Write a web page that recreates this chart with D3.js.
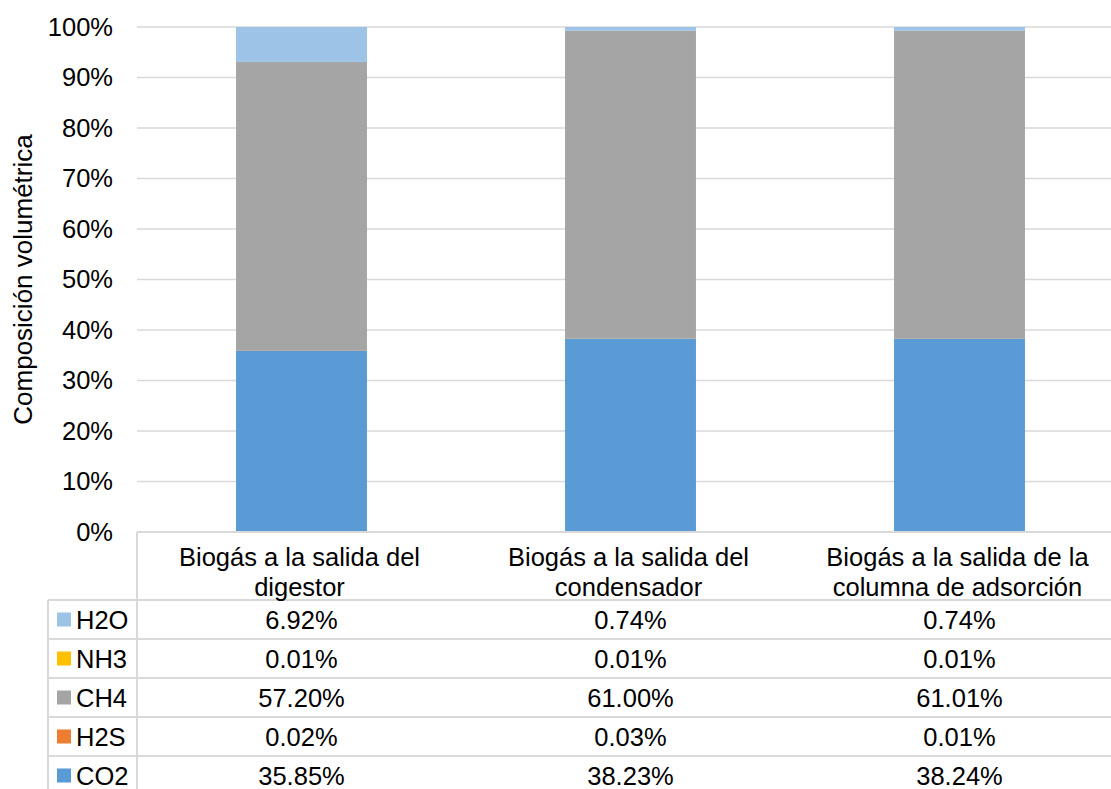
<!DOCTYPE html>
<html>
<head>
<meta charset="utf-8">
<script src="https://cdn.jsdelivr.net/npm/d3@7"></script>
<style>
  html, body { margin: 0; padding: 0; background: #fff; overflow: hidden; }
  svg { display: block; font-family: "Liberation Sans", Arial, sans-serif; }
</style>
</head>
<body>
<svg id="chart" width="1111" height="789"></svg>
<script>
// Sampling points along the biogas treatment line
const categories = [
  ["Biogás a la salida del", "digestor"],
  ["Biogás a la salida del", "condensador"],
  ["Biogás a la salida de la", "columna de adsorción"]
];

// Gas components, bottom of the stack first
const seriesNames = ["CO2", "H2S", "CH4", "NH3", "H2O"];
const seriesColors = ["#5B9BD5", "#ED7D31", "#A5A5A5", "#FFC000", "#9DC3E6"];

// Volumetric composition (%) per sampling point
const co2 = [35.85, 38.23, 38.24];
const h2s = [0.02, 0.03, 0.01];
const ch4 = [57.20, 61.00, 61.01];
const nh3 = [0.01, 0.01, 0.01];
const h2o = [6.92, 0.74, 0.74];

const tickLabels = ["0%", "10%", "20%", "30%", "40%", "50%", "60%", "70%", "80%", "90%", "100%"];

// Table rows are listed top to bottom (reverse of the stack)
const tableOrder = ["H2O", "NH3", "CH4", "H2S", "CO2"];

const valuesBySeries = { CO2: co2, H2S: h2s, CH4: ch4, NH3: nh3, H2O: h2o };

const svg = d3.select("#chart");
const W = 1111;
const plot = { left: 137, right: 1124, top: 27, bottom: 532 };
const tableLeft = 48;
const headerBottom = 600;
const rowH = 39;
const gridColor = "#d9d9d9";
const fontSize = 25.5;

// Build rows for a 100% stack
const rows = categories.map((c, i) => {
  const r = { idx: i };
  seriesNames.forEach(s => { r[s] = valuesBySeries[s][i]; });
  return r;
});
const stack = d3.stack().keys(seriesNames).offset(d3.stackOffsetExpand);
const layers = stack(rows);

const x = d3.scaleBand()
  .domain(d3.range(categories.length))
  .range([plot.left, plot.right])
  .paddingInner(0)
  .paddingOuter(0);
const y = d3.scaleLinear().domain([0, 1]).range([plot.bottom, plot.top]);
const color = d3.scaleOrdinal().domain(seriesNames).range(seriesColors);

// Gridlines
const ticks = d3.range(0, 1.0001, 0.1);
svg.append("g").selectAll("line")
  .data(ticks.slice(1))
  .join("line")
  .attr("x1", plot.left).attr("x2", W)
  .attr("y1", d => y(d)).attr("y2", d => y(d))
  .attr("stroke", gridColor).attr("stroke-width", 1.5);

// Y axis labels
const yAxis = d3.axisLeft(y)
  .tickValues(ticks)
  .tickFormat((d, i) => tickLabels[i])
  .tickSize(0)
  .tickPadding(0);
const gy = svg.append("g")
  .attr("transform", `translate(113,0)`)
  .call(yAxis);
gy.select(".domain").remove();
gy.selectAll("text")
  .attr("font-size", fontSize)
  .attr("font-family", "Liberation Sans, Arial, sans-serif")
  .attr("fill", "#000");

// Bars
const barW = x.bandwidth() * 0.398;
svg.append("g").selectAll("g")
  .data(layers)
  .join("g")
  .attr("fill", d => color(d.key))
  .selectAll("rect")
  .data(d => d)
  .join("rect")
  .attr("x", d => x(d.data.idx) + (x.bandwidth() - barW) / 2)
  .attr("width", barW)
  .attr("y", d => y(d[1]))
  .attr("height", d => Math.max(0, y(d[0]) - y(d[1])));

// Axis title
svg.append("text")
  .attr("transform", `translate(32,${(plot.top + plot.bottom) / 2}) rotate(-90)`)
  .attr("text-anchor", "middle")
  .attr("font-size", 26)
  .attr("fill", "#000")
  .text("Composición volumétrica");

// Data table
const table = svg.append("g");
const tableBottom = headerBottom + rowH * tableOrder.length;

// Horizontal rules
table.append("line")
  .attr("x1", plot.left).attr("x2", W)
  .attr("y1", plot.bottom).attr("y2", plot.bottom)
  .attr("stroke", gridColor).attr("stroke-width", 2);
tableOrder.forEach((s, i) => {
  const yy = headerBottom + rowH * i;
  table.append("line")
    .attr("x1", tableLeft).attr("x2", W)
    .attr("y1", yy).attr("y2", yy)
    .attr("stroke", gridColor).attr("stroke-width", 2);
});
// Vertical rules
table.append("line")
  .attr("x1", plot.left).attr("x2", plot.left)
  .attr("y1", plot.bottom).attr("y2", tableBottom + 5)
  .attr("stroke", gridColor).attr("stroke-width", 2);
table.append("line")
  .attr("x1", tableLeft).attr("x2", tableLeft)
  .attr("y1", headerBottom).attr("y2", tableBottom + 5)
  .attr("stroke", gridColor).attr("stroke-width", 2);

// Category headers
categories.forEach((lines, i) => {
  const cx = x(i) + x.bandwidth() / 2 - 2;
  const t = table.append("text")
    .attr("text-anchor", "middle")
    .attr("font-size", fontSize)
    .attr("fill", "#000");
  lines.forEach((ln, j) => {
    t.append("tspan")
      .attr("x", cx)
      .attr("y", 566 + j * 30)
      .text(ln);
  });
});

// Legend keys + values
tableOrder.forEach((s, r) => {
  const cy = headerBottom + rowH * r + rowH / 2;
  table.append("rect")
    .attr("x", 57).attr("y", cy - 7)
    .attr("width", 14).attr("height", 14)
    .attr("fill", color(s));
  table.append("text")
    .attr("x", 76).attr("y", cy + 9)
    .attr("font-size", fontSize).attr("fill", "#000")
    .text(s);
  valuesBySeries[s].forEach((v, i) => {
    table.append("text")
      .attr("x", x(i) + x.bandwidth() / 2)
      .attr("y", cy + 9)
      .attr("text-anchor", "middle")
      .attr("font-size", fontSize).attr("fill", "#000")
      .text(v.toFixed(2) + "%");
  });
});
</script>
</body>
</html>
